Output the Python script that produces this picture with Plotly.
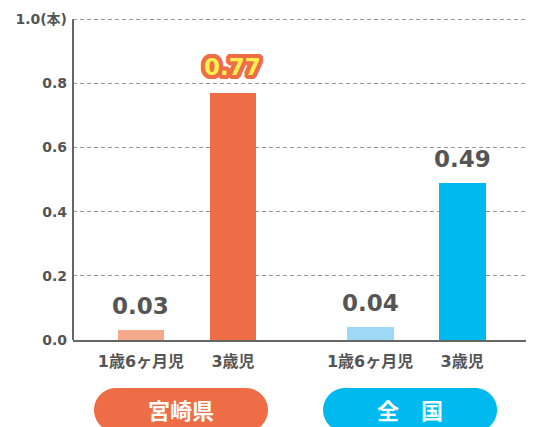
import plotly.graph_objects as go

# ---- data ----
groups = ["宮崎県", "全　国"]
group_colors = ["#EE6D47", "#00B9EE"]
ages = ["1歳6ヶ月児", "3歳児"]
values_miyazaki = [0.03, 0.77]
values_national = [0.04, 0.49]
bar_colors_miyazaki = ["#F5A98B", "#EE6D47"]
bar_colors_national = ["#9DD8F5", "#00B9EE"]
y_ticks = [0.0, 0.2, 0.4, 0.6, 0.8, 1.0]
y_ticktext = ["0.0", "0.2", "0.4", "0.6", "0.8", "1.0(本)"]

# category positions (two groups of two bars)
x_pos = [[0, 1], [2.49, 3.49]]
all_values = [values_miyazaki, values_national]
all_colors = [bar_colors_miyazaki, bar_colors_national]

NUMFONT = "DejaVu Sans, Noto Sans CJK JP"
JPFONT = "Noto Sans CJK JP"
GREY = "#555555"

fig = go.Figure()
for gi in range(2):
    fig.add_trace(go.Bar(
        x=x_pos[gi], y=all_values[gi], width=0.51,
        marker=dict(color=all_colors[gi], line=dict(width=0)),
        showlegend=False, hoverinfo="skip",
    ))

annotations = []
# value labels
for gi in range(2):
    for bi in range(2):
        v = all_values[gi][bi]
        highlight = (gi == 0 and bi == 1)
        if highlight:
            o = "#EE6D47"
            offs = [(4, 0), (-4, 0), (0, 4), (0, -4), (3, 3), (-3, 3), (3, -3), (-3, -3),
                    (2, 4), (-2, 4), (2, -4), (-2, -4), (4, 2), (-4, 2), (4, -2), (-4, -2)]
            shadow = ", ".join([f"{dx}px {dy}px 0 {o}" for dx, dy in offs])
            font = dict(family=NUMFONT, size=23, color="#FFF04F", weight="bold", shadow=shadow)
            yshift = 11
        else:
            font = dict(family=NUMFONT, size=23, color=GREY, weight="bold")
            yshift = 9
        annotations.append(dict(x=x_pos[gi][bi], y=v, text=f"{v:.2f}", showarrow=False,
                                xref="x", yref="y", yanchor="bottom", yshift=yshift, font=font))

shapes = []
# y axis line from 0 to the top tick
shapes.append(dict(type="line", xref="paper", yref="y", x0=0, x1=0, y0=0, y1=y_ticks[-1],
                   line=dict(color="#666666", width=2), layer="above"))

# group pills (rounded rectangles) and labels
pill_w, pill_h, r = 174, 44, 22
for gi in range(2):
    cx = (x_pos[gi][0] + x_pos[gi][1]) / 2
    x0, x1 = -pill_w / 2 - 6, pill_w / 2 - 6
    y_top, y_bot = -48, -48 - pill_h
    k = 0.5523 * r
    path = (f"M {x0 + r},{y_top} L {x1 - r},{y_top} "
            f"C {x1 - r + k},{y_top} {x1},{y_top - r + k} {x1},{y_top - r} "
            f"C {x1},{y_bot + r - k} {x1 - r + k},{y_bot} {x1 - r},{y_bot} "
            f"L {x0 + r},{y_bot} "
            f"C {x0 + r - k},{y_bot} {x0},{y_bot + r - k} {x0},{y_bot + r} "
            f"C {x0},{y_top - r + k} {x0 + r - k},{y_top} {x0 + r},{y_top} Z")
    shapes.append(dict(type="path", xref="x", yref="paper", xsizemode="pixel", ysizemode="pixel",
                       xanchor=cx, yanchor=0, path=path, fillcolor=group_colors[gi],
                       line=dict(width=0), layer="above"))
    annotations.append(dict(x=cx, y=0, xref="x", yref="paper", xshift=-6, yshift=-69,
                            text=groups[gi], showarrow=False, yanchor="middle",
                            font=dict(family=JPFONT, size=22, color="white", weight="bold")))

# page has an 8px body margin, so the figure is sized to the visible area
fig.update_layout(
    width=526, height=419,
    margin=dict(l=65, r=0, t=8, b=87),
    paper_bgcolor="white", plot_bgcolor="white",
    bargap=0,
    shapes=shapes,
    annotations=annotations,
    xaxis=dict(
        range=[-0.739, 4.272],
        tickvals=[x for g in x_pos for x in g],
        ticktext=ages + ages,
        tickfont=dict(family=NUMFONT, size=16, color=GREY, weight="bold"),
        showgrid=False, zeroline=False,
        showline=True, linecolor="#666666", linewidth=2,
        ticks="", ticklabelstandoff=6, automargin=False,
    ),
    yaxis=dict(
        range=[0, 1.01],
        tickvals=y_ticks, ticktext=y_ticktext,
        tickfont=dict(family=NUMFONT, size=14, color=GREY, weight="bold"),
        showgrid=True, gridcolor="#999999", griddash="4px,3px", gridwidth=1,
        zeroline=False,
        showline=False,
        ticks="", ticklabelstandoff=5, automargin=False,
    ),
)

fig.write_html("out.html")
